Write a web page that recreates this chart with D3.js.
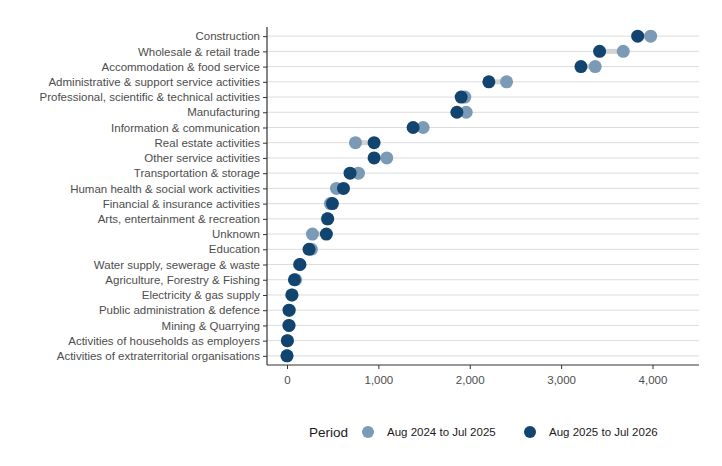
<!DOCTYPE html>
<html>
<head>
<meta charset="utf-8">
<script src="https://cdn.jsdelivr.net/npm/d3@7"></script>
<style>
  body { margin: 0; background: #fff; }
  text { font-family: "Liberation Sans", Arial, sans-serif; }
</style>
</head>
<body>
<svg class="chart"></svg>
<script>
// categories top to bottom
var sectors = [
  "Construction",
  "Wholesale & retail trade",
  "Accommodation & food service",
  "Administrative & support service activities",
  "Professional, scientific & technical activities",
  "Manufacturing",
  "Information & communication",
  "Real estate activities",
  "Other service activities",
  "Transportation & storage",
  "Human health & social work activities",
  "Financial & insurance activities",
  "Arts, entertainment & recreation",
  "Unknown",
  "Education",
  "Water supply, sewerage & waste",
  "Agriculture, Forestry & Fishing",
  "Electricity & gas supply",
  "Public administration & defence",
  "Mining & Quarrying",
  "Activities of households as employers",
  "Activities of extraterritorial organisations"
];
var periods = ["Aug 2024 to Jul 2025", "Aug 2025 to Jul 2026"];
var prev = [3980, 3680, 3373, 2403, 1946, 1961, 1490, 749, 1092, 782, 541, 475, 440, 278, 267, 135, 95, 50, 25, 20, 5, 0];
var curr = [3838, 3421, 3217, 2209, 1906, 1859, 1380, 953, 953, 690, 618, 497, 446, 431, 241, 142, 81, 55, 22, 22, 4, 0];
var xTicks = [0, 1000, 2000, 3000, 4000];

var W = 722, H = 466;
var margin = {left: 267, right: 699, top: 27, bottom: 365};

var svg = d3.select(".chart").attr("width", W).attr("height", H);

var x = d3.scaleLinear().domain([-219, 4509]).range([margin.left, margin.right]);
var y = d3.scalePoint().domain(sectors).range([margin.top, margin.bottom]).padding(0.6);

var colours = d3.scaleOrdinal().domain(periods).range(["#7b9ab5", "#124470"]);

// gridlines
svg.append("g").selectAll("line")
  .data(sectors).enter().append("line")
  .attr("x1", margin.left).attr("x2", margin.right)
  .attr("y1", function(d) { return y(d); })
  .attr("y2", function(d) { return y(d); })
  .attr("stroke", "#dcdcdc").attr("stroke-width", 1);

// connectors
svg.append("g").selectAll("line")
  .data(sectors).enter().append("line")
  .attr("x1", function(d, i) { return x(prev[i]); })
  .attr("x2", function(d, i) { return x(curr[i]); })
  .attr("y1", function(d) { return y(d); })
  .attr("y2", function(d) { return y(d); })
  .attr("stroke", "#d3d3d3").attr("stroke-width", 5);

// points - previous period first, current on top
[prev, curr].forEach(function(vals, k) {
  svg.append("g").selectAll("circle")
    .data(sectors).enter().append("circle")
    .attr("cx", function(d, i) { return x(vals[i]); })
    .attr("cy", function(d) { return y(d); })
    .attr("r", 6.5)
    .attr("fill", colours(periods[k]));
});

// axes
var xAxis = svg.append("g")
  .attr("transform", "translate(0," + margin.bottom + ")")
  .call(d3.axisBottom(x).tickValues(xTicks).tickSize(4).tickSizeOuter(0).tickFormat(d3.format(",")));
var yAxis = svg.append("g")
  .attr("transform", "translate(" + margin.left + ",0)")
  .call(d3.axisLeft(y).tickSize(4).tickSizeOuter(0).tickPadding(3));

[xAxis, yAxis].forEach(function(a) {
  a.select(".domain").attr("stroke", "#333").attr("stroke-width", 1.2);
  a.selectAll(".tick line").attr("stroke", "#333");
  a.selectAll("text").attr("fill", "#4d4d4d").style("font-size", "11.5px");
});
// axis lines meet at corner
xAxis.select(".domain").attr("d", "M" + margin.left + ",0H" + margin.right);
yAxis.select(".domain").attr("d", "M0," + margin.top + "V" + margin.bottom);
xAxis.selectAll("text").attr("dy", "1.05em");

// legend
var lg = svg.append("g").attr("transform", "translate(0,432)");
lg.append("text").attr("x", 309).attr("y", 0).attr("dy", "0.35em")
  .style("font-size", "13.5px").attr("fill", "#1a1a1a").text("Period");
var lx = [368, 530];
periods.forEach(function(p, k) {
  lg.append("circle").attr("cx", lx[k]).attr("cy", 0).attr("r", 6).attr("fill", colours(p));
  lg.append("text").attr("x", lx[k] + 19).attr("y", 0).attr("dy", "0.35em")
    .style("font-size", "11.5px").attr("fill", "#1a1a1a").text(p);
});
</script>
</body>
</html>
